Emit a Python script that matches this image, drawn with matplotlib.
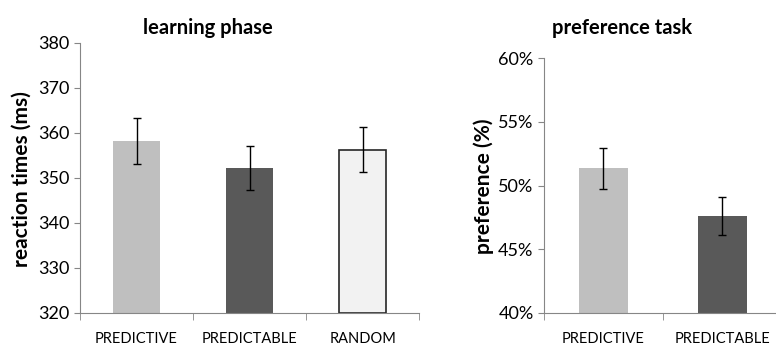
import matplotlib
matplotlib.use("Agg")
import matplotlib.pyplot as plt
from matplotlib.ticker import FuncFormatter

plt.rcParams['font.family'] = ['Lato', 'DejaVu Sans']

# learning phase (reaction times, ms)
rt_labels = ['PREDICTIVE', 'PREDICTABLE', 'RANDOM']
rt_means = [358.2, 352.2, 356.3]
rt_errs = [5.2, 4.85, 5.0]
rt_colors = ['#BFBFBF', '#595959', '#F2F2F2']
rt_edges = ['none', 'none', '#262626']

# preference task (%)
pref_labels = ['PREDICTIVE', 'PREDICTABLE']
pref_means = [51.35, 47.6]
pref_errs = [1.62, 1.5]
pref_colors = ['#BFBFBF', '#595959']

axis_grey = '#868686'


def style_axes(ax, n):
    ax.spines['top'].set_visible(False)
    ax.spines['right'].set_visible(False)
    ax.spines['left'].set_color(axis_grey)
    ax.spines['bottom'].set_color(axis_grey)
    ax.set_xlim(-0.5, n - 0.5)
    ax.set_xticks(range(n))
    ax.set_xticks([i - 0.5 for i in range(n + 1)], minor=True)
    ax.tick_params(axis='x', which='major', length=0, pad=14, labelsize=10.5, colors='black')
    ax.tick_params(axis='x', which='minor', length=5, color=axis_grey, direction='out')
    ax.tick_params(axis='y', length=4, color=axis_grey, labelcolor='black', labelsize=13)


fig = plt.figure(figsize=(7.76, 3.45), dpi=100)

ax1 = fig.add_axes([0.1031, 0.0928, 0.437, 0.7826])
ax1.bar(range(len(rt_means)), [m - 320 for m in rt_means], bottom=320, width=0.42,
        color=rt_colors, edgecolor=rt_edges, linewidth=1.2,
        yerr=rt_errs, capsize=3, error_kw=dict(elinewidth=1, ecolor='black', capthick=1))
ax1.set_ylim(320, 380)
ax1.set_yticks(range(320, 381, 10))
ax1.set_xticklabels(rt_labels)
style_axes(ax1, len(rt_means))
fig.text(0.028, 0.48, 'reaction times (ms)', rotation=90, ha='center', va='center',
         fontsize=15, fontweight='bold')
fig.text(0.268, 0.918, 'learning phase', ha='center', va='center', fontsize=14.5, fontweight='bold')

ax2 = fig.add_axes([0.701, 0.0928, 0.3067, 0.739])
ax2.bar(range(len(pref_means)), [m - 40 for m in pref_means], bottom=40, width=0.41,
        color=pref_colors, edgecolor='none',
        yerr=pref_errs, capsize=3, error_kw=dict(elinewidth=1, ecolor='black', capthick=1))
ax2.set_ylim(40, 60)
ax2.set_yticks(range(40, 61, 5))
ax2.yaxis.set_major_formatter(FuncFormatter(lambda v, p: f'{v:.0f}%'))
ax2.set_xticklabels(pref_labels)
style_axes(ax2, len(pref_means))
fig.text(0.623, 0.46, 'preference (%)', rotation=90, ha='center', va='center',
         fontsize=15, fontweight='bold')
fig.text(0.802, 0.918, 'preference task', ha='center', va='center', fontsize=14.5, fontweight='bold')

fig.savefig('out.png', dpi=100)
